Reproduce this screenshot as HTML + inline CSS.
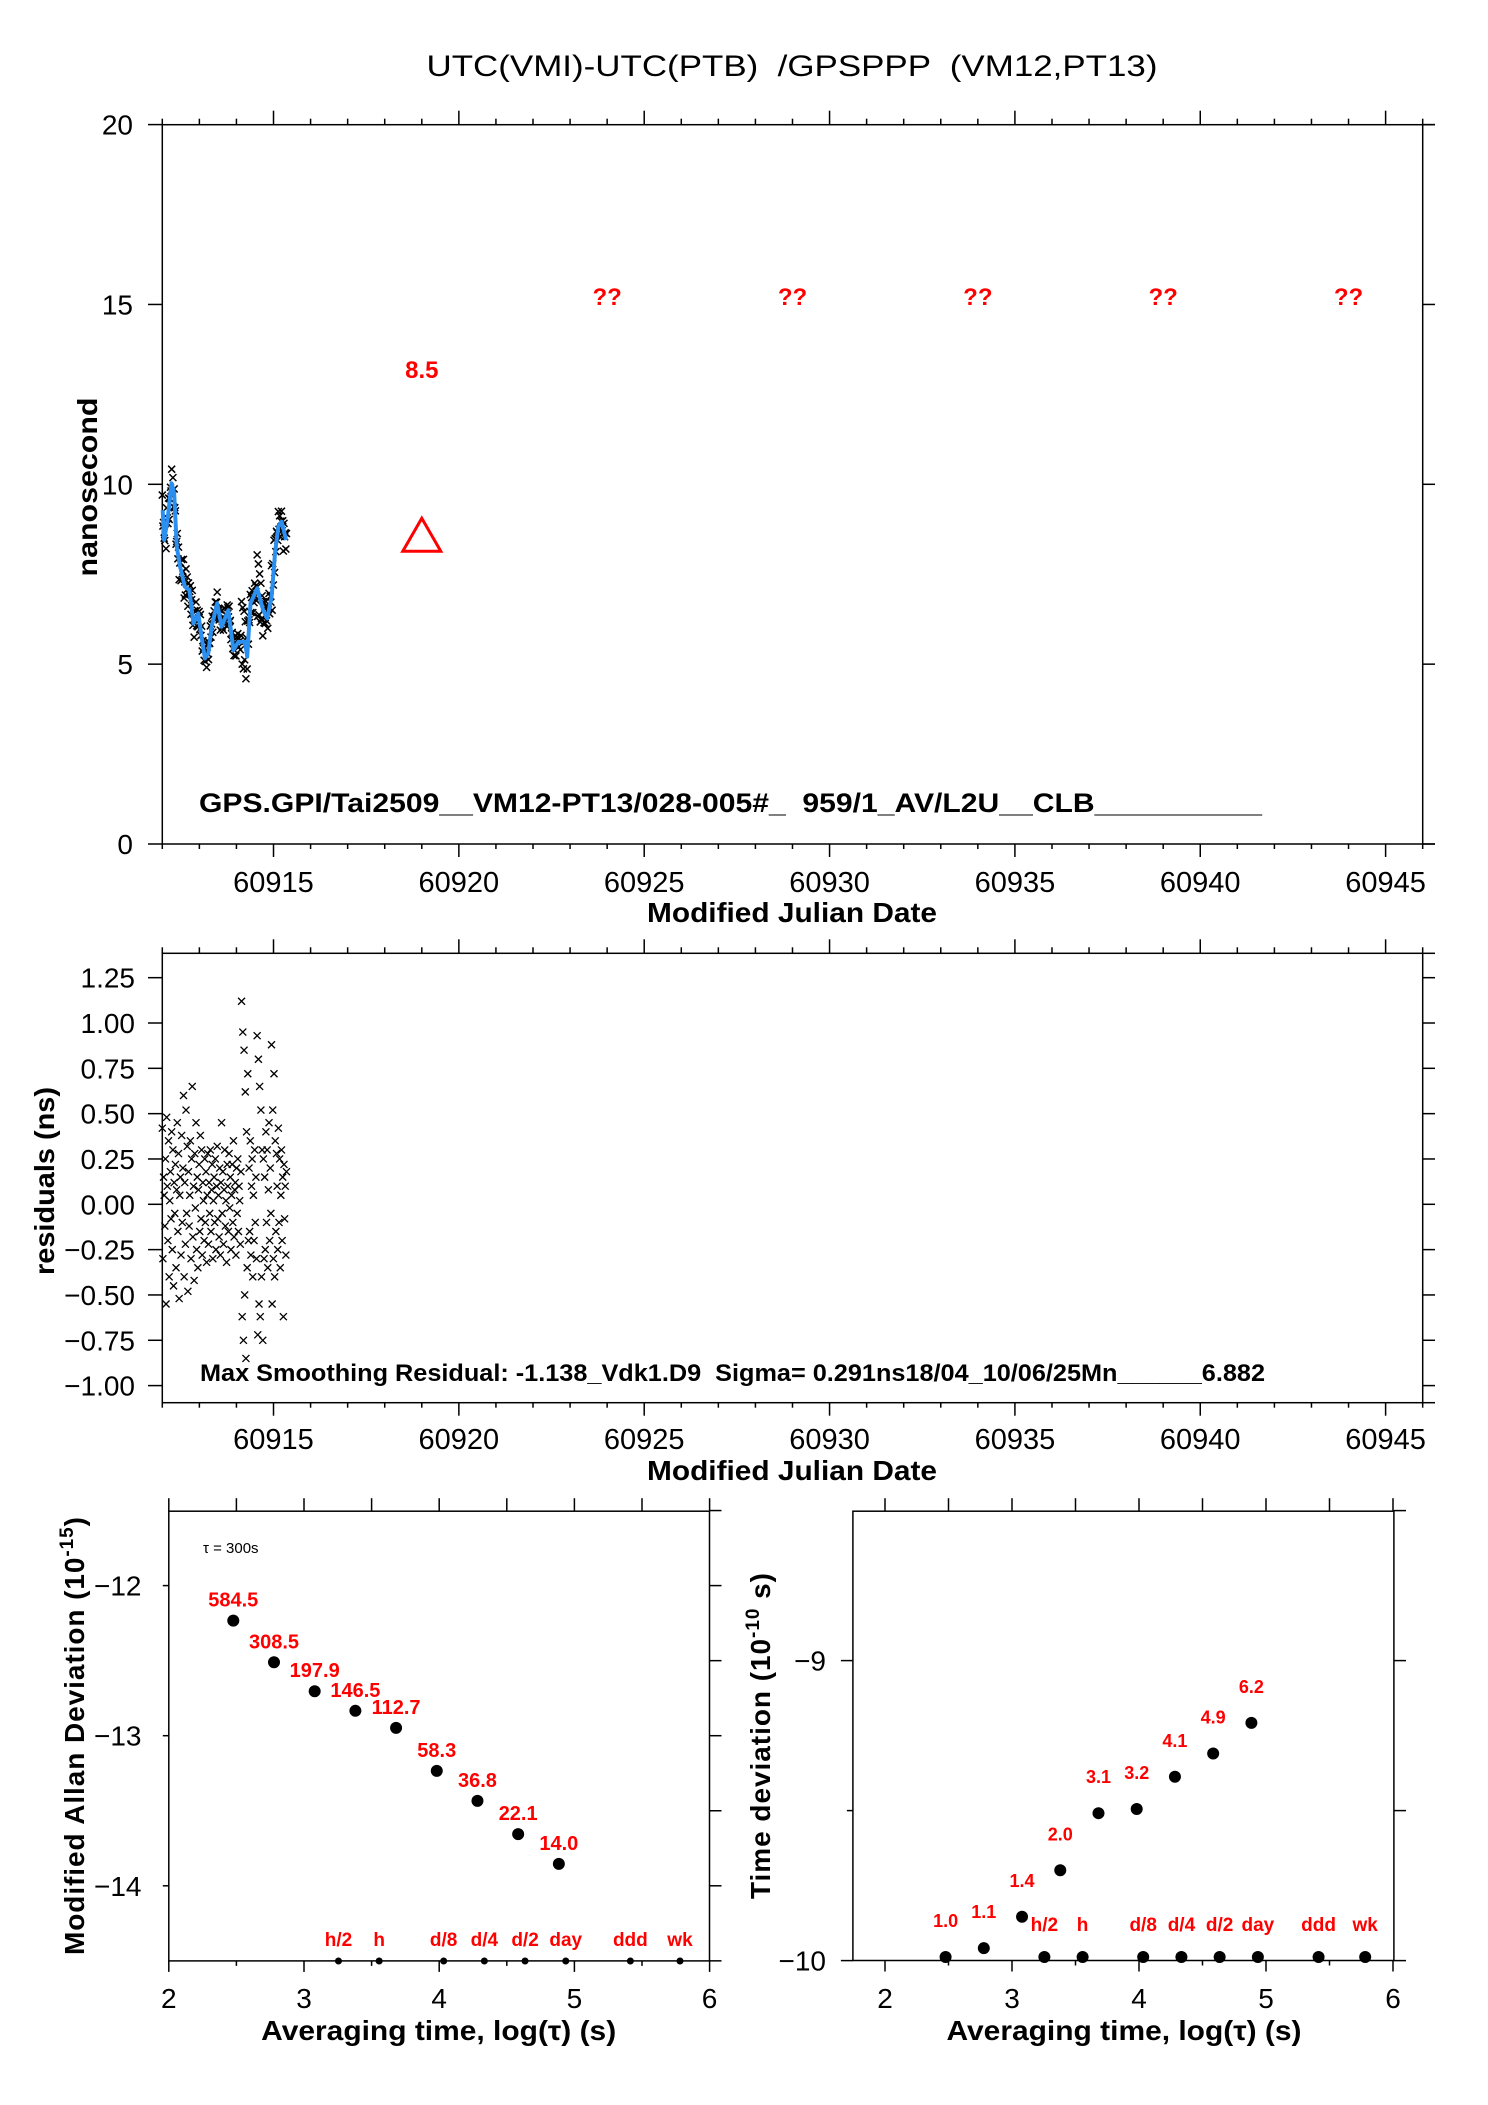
<!DOCTYPE html>
<html><head><meta charset="utf-8"><title>UTC(VMI)-UTC(PTB) GPSPPP</title>
<style>
html,body{margin:0;padding:0;background:#fff;}
svg{display:block;font-family:"Liberation Sans",Arial,sans-serif;}
text{white-space:pre;}
</style></head>
<body>
<svg id="chart" xmlns="http://www.w3.org/2000/svg" width="1488" height="2105" viewBox="0 0 1488 2105">
<rect x="0" y="0" width="1488" height="2105" fill="#fff"/>
<text x="792" y="76" font-size="30" text-anchor="middle" textLength="731" lengthAdjust="spacingAndGlyphs">UTC(VMI)-UTC(PTB)  /GPSPPP  (VM12,PT13)</text>
</svg>
<script>
// ---------- data ----------
const smoothMjd = [60912.01,60912.05,60912.14,60912.25,60912.32,60912.39,60912.48,60912.61,60912.73,60912.84,60912.97,60913.06,60913.15,60913.24,60913.33,60913.48,60913.60,60913.78,60913.92,60914.05,60914.23,60914.29,60914.38,60914.56,60914.72,60914.83,60914.95,60915.04,60915.13,60915.22,60915.34];
const smoothNs = [9.28,8.45,9.0,10.03,9.75,8.27,7.71,7.15,7.06,6.13,6.41,5.76,5.16,5.30,6.04,6.69,6.04,6.50,5.39,5.62,5.62,5.21,6.69,7.11,6.50,6.27,6.88,8.08,8.82,8.96,8.45];
const residuals = [
0.42,-0.30,0.15,0.05,-0.12,0.25,-0.55,0.48,0.10,-0.20,0.35,-0.40,0.02,0.18,-0.08,0.40,-0.25,0.30,-0.45,0.12,
-0.05,0.22,-0.35,0.08,0.45,-0.15,0.28,-0.52,0.05,0.15,-0.28,0.38,-0.10,0.20,0.60,-0.40,0.12,-0.22,0.52,-0.05,
0.32,-0.48,0.18,-0.12,0.05,0.35,-0.30,0.25,0.65,-0.18,0.10,-0.42,0.28,-0.02,0.45,-0.25,0.15,-0.35,0.08,0.22,
-0.15,0.38,-0.08,0.30,-0.28,0.12,0.02,-0.20,0.25,-0.10,0.18,-0.32,
0.05,0.28,-0.22,0.12,-0.05,0.30,-0.15,0.08,0.22,-0.30,0.02,0.15,-0.10,0.25,-0.25,0.10,0.32,-0.08,0.05,-0.18,
0.20,-0.28,0.12,0.45,-0.05,0.18,-0.22,0.08,0.30,-0.12,0.02,-0.32,0.22,0.10,-0.15,0.28,-0.02,0.15,-0.25,0.05,
0.22,-0.10,0.35,-0.18,0.08,0.12,-0.28,0.20,-0.05,0.25,-0.15,0.10,0.02,-0.22,0.18,
1.12,-0.62,0.95,-0.75,0.85,-0.50,0.62,-0.85,0.40,-0.35,0.72,-0.20,
0.20,-0.15,0.35,-0.28,0.10,0.25,-0.40,0.05,-0.20,0.30,-0.10,0.15,-0.30,
0.93,-0.72,0.80,-0.55,0.65,-0.62,0.52,-0.40,0.30,-0.75,0.25,-0.30,
0.15,-0.25,0.40,-0.10,0.30,-0.35,0.08,0.45,-0.20,0.20,-0.05,0.88,-0.55,0.52,-0.30,0.72,-0.40,0.35,-0.15,0.28,
0.10,-0.25,0.42,-0.10,0.25,-0.35,0.05,0.30,-0.20,0.15,-0.62,0.22,-0.08,0.10,-0.28,0.18];
const residStart = 60912.0;
const residEnd = 60915.35;
const triangleMjd = 60919;
const triangleNs = 8.5;
const triangleLabel = "8.5";
const unknownMjd = [60924,60929,60934,60939,60944];
const unknownLabel = "??";
const mjdTicks = [60915,60920,60925,60930,60935,60940,60945];
const nsTicks = [0,5,10,15,20];
const residTicks = [1.25,1.00,0.75,0.50,0.25,0.00,-0.25,-0.50,-0.75,-1.00];
const tauLog = [2.477,2.778,3.079,3.380,3.681,3.982,4.283,4.584,4.885];
const adevVals = [584.5,308.5,197.9,146.5,112.7,58.3,36.8,22.1,14.0];
const tdevVals = [1.0,1.1,1.4,2.0,3.1,3.2,4.1,4.9,6.2];
const eventNames = ["h/2","h","d/8","d/4","d/2","day","ddd","wk"];
const eventLog = [3.255,3.556,4.033,4.334,4.635,4.936,5.414,5.781];
const tauTicks = [2,3,4,5,6];
const adevTicks = [-12,-13,-14];
const tdevTicks = [-9,-10];

// ---------- helpers ----------
const NS = "http://www.w3.org/2000/svg";
const svg = document.getElementById('chart');
function mk(tag, attrs, parent){
  const e = document.createElementNS(NS, tag);
  for (const k in attrs) e.setAttribute(k, attrs[k]);
  (parent||svg).appendChild(e);
  return e;
}
function line(x1,y1,x2,y2,w,g){ return mk('line',{x1:x1,y1:y1,x2:x2,y2:y2,stroke:'#000','stroke-width':w||1.5},g); }
function fmtMinus(s){ return String(s).replace('-','\u2212'); }
function cross(x,y,s){ return `M${x-s},${y-s}L${x+s},${y+s}M${x-s},${y+s}L${x+s},${y-s}`; }

// ---------- scales ----------
const mjdX = m => 162.3 + (m - 60912) * 37.07;
const nsY = v => 844 - v * 35.97;
const resY = v => 1204.3 - v * 181.3;
const adX = l => 168.8 + (l - 2) * 135.2;
const adY = l => 1585.6 + (-12 - l) * 150.1;
const tdX = l => 885 + (l - 2) * 127;
const tdY = l => 1660.6 + (-9 - l) * 300;
function interpSmooth(m){
  if (m <= smoothMjd[0]) return smoothNs[0];
  for (let i=1;i<smoothMjd.length;i++){
    if (m <= smoothMjd[i]){
      const f=(m-smoothMjd[i-1])/(smoothMjd[i]-smoothMjd[i-1]);
      return smoothNs[i-1]+f*(smoothNs[i]-smoothNs[i-1]);
    }
  }
  return smoothNs[smoothNs.length-1];
}
function residMjd(i){ return residStart + i*(residEnd-residStart)/(residuals.length-1); }

// ---------- MJD panel frame ----------
function mjdPanel(top, bottom, name){
  const g = mk('g',{});
  
  
  const fr = mk('rect',{x:162.3,y:top,width:1422.7-162.3,height:bottom-top,fill:'none',stroke:'#000','stroke-width':1.5},g);
  
  
  for (let m=60912;m<=60946;m++){
    const x=mjdX(m), major=(m%5===0);
    line(x,top,x,top-(major?14:6),1.5,g);
    line(x,bottom,x,bottom+(major?13:5),1.5,g);
  }
  line(1422.7,top,1435,top,1.5,g);
  line(1422.7,bottom,1435,bottom,1.5,g);
  for (const m of mjdTicks){
    const t = mk('text',{x:mjdX(m),y:(name==='offset'?892:1449),'font-size':29,'text-anchor':'middle'},g);
    
    
    t.textContent = m;
  }
  const xt = mk('text',{x:792,y:(name==='offset'?922:1480),'font-size':28,'font-weight':'bold','text-anchor':'middle',textLength:290,lengthAdjust:'spacingAndGlyphs'},g);
  
  
  xt.textContent = 'Modified Julian Date';
  return g;
}

// ---------- top panel ----------
const gTop = mjdPanel(124.7, 844, 'offset');
for (const v of nsTicks){
  const y = nsY(v);
  line(148,y,162.3,y,1.5,gTop);
  line(1422.7,y,1435,y,1.5,gTop);
  const t = mk('text',{x:133,y:y+10,'font-size':28,'text-anchor':'end'},gTop);
  
  
  t.textContent = v;
}
const yt1 = mk('text',{x:97,y:487,'font-size':28,'font-weight':'bold','text-anchor':'middle',transform:'rotate(-90 97 487)',textLength:179,lengthAdjust:'spacingAndGlyphs'});


yt1.textContent = 'nanosecond';

const gRaw = mk('g',{stroke:'#000','stroke-width':1.5});


residuals.forEach((r,i)=>{
  const m = residMjd(i);
  const x = mjdX(m), y = nsY(interpSmooth(m) + r);
  const p = mk('path',{d:cross(x,y,3.5)},gRaw);
  
  
});
const smoothPath = mk('polyline',{points:smoothMjd.map((m,i)=>mjdX(m)+','+nsY(smoothNs[i])).join(' '),fill:'none',stroke:'#2b8ff0','stroke-width':4,'stroke-linejoin':'round'});



const tx = mjdX(triangleMjd), ty = nsY(triangleNs);
const tri = mk('polygon',{points:`${tx},${ty-20} ${tx-19},${ty+13} ${tx+19},${ty+13}`,fill:'none',stroke:'#f00','stroke-width':3});


const triT = mk('text',{x:tx,y:378,'font-size':24,'font-weight':'bold',fill:'#f00','text-anchor':'middle'});


triT.textContent = triangleLabel;
for (const m of unknownMjd){
  const t = mk('text',{x:mjdX(m),y:305,'font-size':24,'font-weight':'bold',fill:'#f00','text-anchor':'middle'});
  
  
  t.textContent = unknownLabel;
}
const ann1 = mk('text',{x:199,y:812,'font-size':27,'font-weight':'bold',textLength:1063,lengthAdjust:'spacingAndGlyphs'});


ann1.textContent = 'GPS.GPI/Tai2509__VM12-PT13/028-005#_  959/1_AV/L2U__CLB__________';

// ---------- residual panel ----------
const gRes = mjdPanel(953.3, 1402.7, 'residual');
for (const v of residTicks){
  const y = resY(v);
  line(148,y,162.3,y,1.5,gRes);
  line(1422.7,y,1435,y,1.5,gRes);
  const t = mk('text',{x:135,y:y+10,'font-size':28,'text-anchor':'end'},gRes);
  
  
  t.textContent = fmtMinus(v.toFixed(2));
}
const yt2 = mk('text',{x:54,y:1181,'font-size':28,'font-weight':'bold','text-anchor':'middle',transform:'rotate(-90 54 1181)',textLength:188,lengthAdjust:'spacingAndGlyphs'});


yt2.textContent = 'residuals (ns)';
const gResPts = mk('g',{stroke:'#000','stroke-width':1.3});


residuals.forEach((r,i)=>{
  const x = mjdX(residMjd(i)), y = resY(r);
  const p = mk('path',{d:cross(x,y,3.5)},gResPts);
  
  
});
const ann2 = mk('text',{x:200,y:1381,'font-size':24,'font-weight':'bold',textLength:1065,lengthAdjust:'spacingAndGlyphs'});


ann2.textContent = 'Max Smoothing Residual: -1.138_Vdk1.D9  Sigma= 0.291ns18/04_10/06/25Mn______6.882';

// ---------- stability panels ----------
function stabPanel(L,R,T,B,xs,name){
  const g = mk('g',{});
  
  
  const fr = mk('rect',{x:L,y:T,width:R-L,height:B-T,fill:'none',stroke:'#000','stroke-width':1.5},g);
  
  
  for (let v=2; v<=6.001; v+=0.5){
    const x = xs(v), major = Math.abs(v-Math.round(v))<1e-6;
    line(x,T,x,T-13,1.5,g);
    line(x,B,x,B+(major?11:5),1.5,g);
  }
  for (const v of tauTicks){
    const t = mk('text',{x:xs(v),y:2008,'font-size':28,'text-anchor':'middle'},g);
    
    
    t.textContent = v;
  }
  const xt = mk('text',{x:(xs(2)+xs(6))/2 + (name==='adev'?-0.5:-15),y:2040,'font-size':28,'font-weight':'bold','text-anchor':'middle',textLength:355,lengthAdjust:'spacingAndGlyphs'},g);
  
  
  xt.textContent = 'Averaging time, log(\u03C4) (s)';
  return g;
}
// left: Modified Allan deviation
const gA = stabPanel(168.8,709.5,1511.2,1960.9,adX,'adev');
for (let v=-11.5; v>=-14.5; v-=0.5){
  line(709.5,adY(v),721.5,adY(v),1.5,gA);
}
for (const v of adevTicks){
  line(162.8,adY(v),168.8,adY(v),1.5,gA);
  const t = mk('text',{x:141.5,y:adY(v)+10,'font-size':28,'text-anchor':'end'},gA);
  
  
  t.textContent = fmtMinus(v);
}
const ytA = mk('text',{x:84,y:1736,'font-size':28,'font-weight':'bold','text-anchor':'middle',transform:'rotate(-90 84 1736)',textLength:438,lengthAdjust:'spacing'});


ytA.innerHTML = 'Modified Allan Deviation (10<tspan font-size="19" dy="-11">-15</tspan><tspan dy="11">)</tspan>';
const tauNote = mk('text',{x:203,y:1553,'font-size':15});


tauNote.textContent = '\u03C4 = 300s';
tauLog.forEach((l,i)=>{
  const y = adY(Math.log10(adevVals[i]*1e-15));
  const c = mk('circle',{cx:adX(l),cy:y,r:6,fill:'#000'});
  
  
  const t = mk('text',{x:adX(l),y:y-14,'font-size':20,'font-weight':'bold',fill:'#f00','text-anchor':'middle'});
  
  
  t.textContent = adevVals[i].toFixed(1);
});
eventLog.forEach((l,i)=>{
  const c = mk('circle',{cx:adX(l),cy:1961,r:3.5,fill:'#000'});
  
  
  const t = mk('text',{x:adX(l),y:1946,'font-size':19,'font-weight':'bold',fill:'#f00','text-anchor':'middle'});
  
  
  t.textContent = eventNames[i];
});

// right: time deviation
const gT = stabPanel(852.9,1393.9,1511.2,1960.5,tdX,'tdev');
for (const v of [-8.5,-9,-9.5,-10]){
  line(1393.9,tdY(v),1406,tdY(v),1.5,gT);
}
for (const v of [-9,-9.5,-10]){
  line(v===-9.5?846.9:840.9,tdY(v),852.9,tdY(v),1.5,gT);
}
for (const v of tdevTicks){
  const t = mk('text',{x:826,y:tdY(v)+10,'font-size':28,'text-anchor':'end'},gT);
  
  
  t.textContent = fmtMinus(v);
}
const ytT = mk('text',{x:770,y:1736,'font-size':28,'font-weight':'bold','text-anchor':'middle',transform:'rotate(-90 770 1736)',textLength:326,lengthAdjust:'spacing'});


ytT.innerHTML = 'Time deviation (10<tspan font-size="19" dy="-11">-10</tspan><tspan dy="11"> s)</tspan>';
tauLog.forEach((l,i)=>{
  const y = Math.min(tdY(Math.log10(tdevVals[i]*1e-10)), 1957);
  const c = mk('circle',{cx:tdX(l),cy:y,r:6,fill:'#000'});
  
  
  const t = mk('text',{x:tdX(l),y:y-30,'font-size':18,'font-weight':'bold',fill:'#f00','text-anchor':'middle'});
  
  
  t.textContent = tdevVals[i].toFixed(1);
});
eventLog.forEach((l,i)=>{
  const c = mk('circle',{cx:tdX(l),cy:1957,r:6,fill:'#000'});
  
  
  const t = mk('text',{x:tdX(l),y:1931,'font-size':19,'font-weight':'bold',fill:'#f00','text-anchor':'middle'});
  
  
  t.textContent = eventNames[i];
});
</script>
</body></html>
